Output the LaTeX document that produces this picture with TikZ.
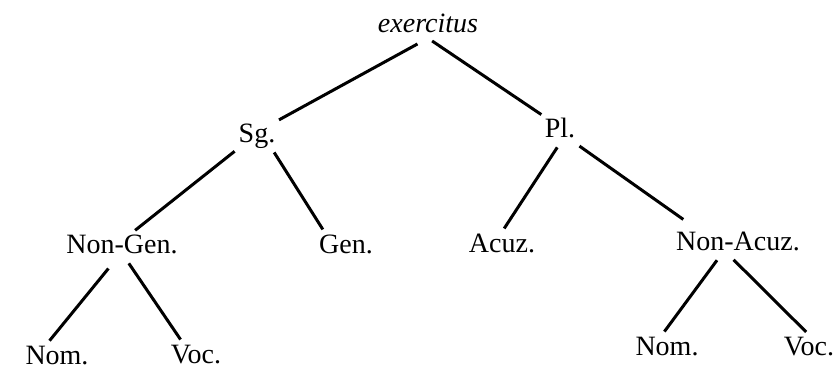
\documentclass[tikz,border=0pt]{standalone}
\usepackage{fontspec}
\setmainfont{Liberation Serif}
\usepackage{tikz}
\tikzset{
  casenode/.style={inner sep=0pt,anchor=base,font=\fontsize{28}{32}\selectfont,
    text height=20pt,text depth=6pt},
  branch/.style={line width=3pt,shorten <=5pt,shorten >=4pt},
}
\begin{document}
\begin{tikzpicture}[x=1pt,y=-1pt]
\useasboundingbox (0,0) rectangle (836,370);
\node[casenode] (ex) at (428,32) {\itshape exercitus};
\node[casenode] (sg) at (257,142) {Sg.};
\node[casenode] (pl) at (560,137) {Pl.};
\node[casenode] (nongen) at (122,253) {Non-Gen.};
\node[casenode] (gen) at (346,253) {Gen.};
\node[casenode] (acuz) at (502,252) {Acuz.};
\node[casenode] (nonacuz) at (738,250) {Non-Acuz.};
\node[casenode] (nomA) at (57,364) {Nom.};
\node[casenode] (vocA) at (196,363) {Voc.};
\node[casenode] (nomB) at (667,355) {Nom.};
\node[casenode] (vocB) at (809,355) {Voc.};
% first split
\draw[branch,shorten <=12pt] (ex.south) -- (sg.north east);
\draw[branch] (ex.south) -- (pl.north west);
% number
\draw[branch] (sg.south west) -- ([xshift=10pt]nongen.north);
\draw[branch] ([xshift=-4pt]sg.south east) -- ([xshift=6pt]gen.north west);
\draw[branch] (pl.south) -- (acuz.north);
\draw[branch,shorten >=18pt] (pl.south east) -- ([xshift=-40pt]nonacuz.north);
% case
\draw[branch,shorten <=12pt] ([xshift=-6pt]nongen.south) -- ([xshift=-10pt]nomA.north);
\draw[branch] ([xshift=4pt]nongen.south) -- ([xshift=12pt]vocA.north west);
\draw[branch] ([xshift=-18pt]nonacuz.south) -- ([xshift=-5pt]nomB.north);
\draw[branch] ([xshift=-8pt]nonacuz.south) -- (vocB.north);
\end{tikzpicture}
\end{document}
